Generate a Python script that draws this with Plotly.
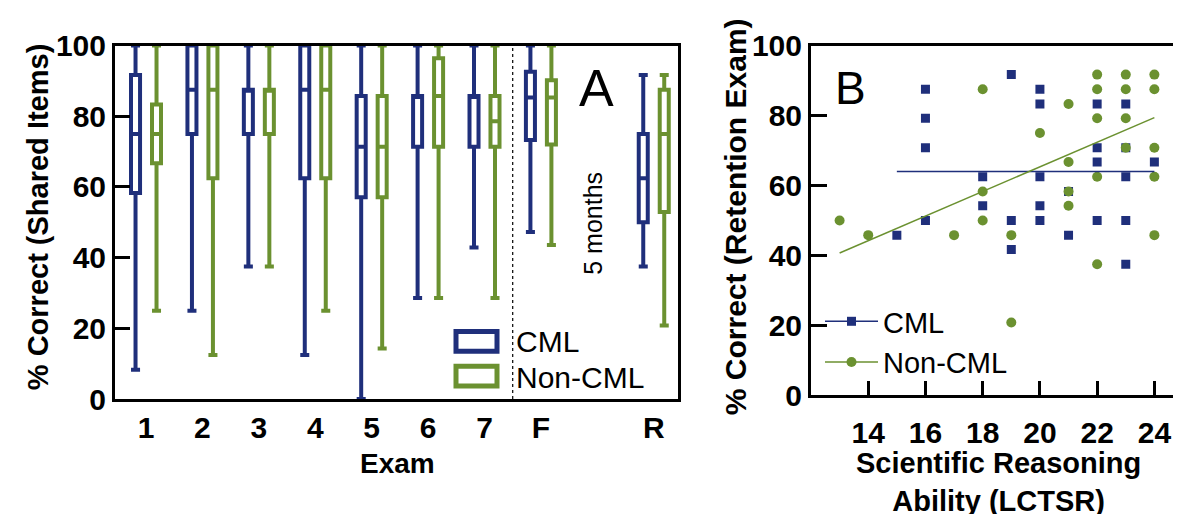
import plotly.graph_objects as go

# ---------------- Data ----------------
exam_pos = [1, 2, 3, 4, 5, 6, 7, 8, 10]
exam_labels = ["1", "2", "3", "4", "5", "6", "7", "F", "R"]

cml_min = [8.3, 25, 37.5, 12.5, 0, 28.6, 42.9, 47.3, 37.5]
cml_q1 = [58.3, 75, 75, 62.5, 57.1, 71.4, 71.4, 73.3, 50]
cml_med = [75, 87.5, 87.5, 87.5, 71.4, 85.7, 85.7, 85.3, 62.5]
cml_q3 = [91.7, 100, 87.5, 100, 85.7, 85.7, 85.7, 92.6, 75]
cml_max = [100, 100, 100, 100, 100, 100, 100, 100, 91.7]

nc_min = [25, 12.5, 37.5, 25, 14.3, 28.6, 28.6, 43.6, 20.8]
nc_q1 = [66.7, 62.5, 75, 62.5, 57.1, 71.4, 71.4, 72, 52.9]
nc_med = [75, 87.5, 87.5, 87.5, 71.4, 85.7, 78.6, 85.3, 75]
nc_q3 = [83.3, 100, 87.5, 100, 85.7, 96.4, 85.7, 90.2, 87.5]
nc_max = [100, 100, 100, 100, 100, 100, 100, 100, 91.7]

cml_lctsr = [15, 16, 16, 16, 16, 18, 18, 19, 19, 19, 20, 20, 20, 20, 20,
             21, 21, 22, 22, 22, 22, 23, 23, 23, 23, 23, 24]
cml_ret = [45.8, 87.5, 79.2, 70.8, 50, 62.5, 54.2, 91.7, 50, 41.7, 87.5, 83.3, 62.5, 54.2, 50,
           58.3, 45.8, 83.3, 70.8, 66.7, 50, 83.3, 70.8, 62.5, 50, 37.5, 66.7]

nc_lctsr = [13, 14, 17, 18, 18, 18, 19, 19, 20, 21, 21, 21, 21, 22, 22, 22, 22, 22,
            23, 23, 23, 23, 24, 24, 24, 24, 24]
nc_ret = [50, 45.8, 45.8, 87.5, 58.3, 50, 45.8, 20.8, 75, 83.3, 66.7, 58.3, 54.2,
          91.7, 87.5, 79.2, 62.5, 37.5, 91.7, 87.5, 79.2, 70.8, 91.7, 87.5, 70.8, 62.5, 45.8]

cml_fit_x = [15, 24]
cml_fit_y = [64, 64]
nc_fit_x = [13, 24]
nc_fit_y = [40.7, 79.4]

# ---------------- Style ----------------
BLUE = "#1F2F7B"
GREEN = "#6B9130"
FONT = "Liberation Sans"
W, H = 1181, 514

def px_x(p):
    return p / W

def px_y(p):
    return 1 - p / H

fig = go.Figure()

# Panel A boxes
fig.add_trace(go.Box(
    x=exam_pos, q1=cml_q1, median=cml_med, q3=cml_q3,
    lowerfence=cml_min, upperfence=cml_max,
    name="CML", line=dict(color=BLUE, width=4), fillcolor="white",
    whiskerwidth=1, boxpoints=False, showlegend=False,
    xaxis="x", yaxis="y", hoverinfo="skip"))
fig.add_trace(go.Box(
    x=exam_pos, q1=nc_q1, median=nc_med, q3=nc_q3,
    lowerfence=nc_min, upperfence=nc_max,
    name="Non-CML", line=dict(color=GREEN, width=4), fillcolor="white",
    whiskerwidth=1, boxpoints=False, showlegend=False,
    xaxis="x", yaxis="y", hoverinfo="skip"))

# Panel B scatter
fig.add_trace(go.Scatter(
    x=cml_lctsr, y=cml_ret, mode="markers",
    marker=dict(symbol="square", size=9, color=BLUE),
    showlegend=False, xaxis="x2", yaxis="y2"))
fig.add_trace(go.Scatter(
    x=nc_lctsr, y=nc_ret, mode="markers",
    marker=dict(symbol="circle", size=10, color=GREEN),
    showlegend=False, xaxis="x2", yaxis="y2"))
fig.add_trace(go.Scatter(
    x=cml_fit_x, y=cml_fit_y, mode="lines",
    line=dict(color=BLUE, width=1.5),
    showlegend=False, xaxis="x2", yaxis="y2"))
fig.add_trace(go.Scatter(
    x=nc_fit_x, y=nc_fit_y, mode="lines",
    line=dict(color=GREEN, width=1.5),
    showlegend=False, xaxis="x2", yaxis="y2"))
# legend entries for panel B
fig.add_trace(go.Scatter(
    x=[None], y=[None], mode="lines+markers", name="CML",
    marker=dict(symbol="square", size=9, color=BLUE),
    line=dict(color=BLUE, width=1.5), xaxis="x2", yaxis="y2"))
fig.add_trace(go.Scatter(
    x=[None], y=[None], mode="lines+markers", name="Non-CML",
    marker=dict(symbol="circle", size=10, color=GREEN),
    line=dict(color=GREEN, width=1.5), xaxis="x2", yaxis="y2"))

tickfont = dict(family=FONT, size=30, color="black", weight="bold")
axis_common = dict(showline=True, linewidth=3, linecolor="black", mirror=True,
                   showgrid=False, zeroline=False, tickfont=tickfont,
                   tickcolor="black", tickwidth=3)

fig.update_layout(
    width=W, height=H,
    margin=dict(l=0, r=0, t=0, b=0),
    paper_bgcolor="white", plot_bgcolor="white",
    boxmode="group", boxgap=0.256, boxgroupgap=0.57,
    font=dict(family=FONT, color="black"),
    xaxis=dict(domain=[px_x(107), px_x(670)], range=[0.45, 10.43],
               tickvals=exam_pos, ticktext=exam_labels, ticks="",
               ticklabelstandoff=0, anchor="y", **axis_common),
    yaxis=dict(domain=[px_y(400), px_y(23)], range=[0, 100],
               tickvals=[0, 20, 40, 60, 80, 100], ticks="inside", ticklen=15,
               anchor="x", **axis_common),
    xaxis2=dict(domain=[px_x(803), px_x(1175)], range=[12, 25],
                tickvals=[14, 16, 18, 20, 22, 24], ticks="inside", ticklen=14,
                ticklabelstandoff=9, anchor="y2", **axis_common),
    yaxis2=dict(domain=[px_y(396), px_y(23)], range=[0, 100],
                tickvals=[0, 20, 40, 60, 80, 100], ticks="inside", ticklen=16,
                anchor="x2", **axis_common),
    legend=dict(x=px_x(812), y=px_y(290), xanchor="left", yanchor="top",
                font=dict(family=FONT, size=29, color="black"),
                itemwidth=53, bgcolor="rgba(0,0,0,0)", tracegroupgap=0),
    showlegend=True,
)

# dotted separator between exams and retention
fig.add_shape(type="line", xref="x", yref="y domain", x0=7.5, x1=7.5, y0=0, y1=1,
              line=dict(color="black", width=1.2, dash="dot"))

# Panel A legend (drawn)
for (y0, y1, col) in [(326, 351, BLUE), (363, 388, GREEN)]:
    fig.add_shape(type="rect", xref="paper", yref="paper",
                  x0=px_x(448), x1=px_x(489), y0=px_y(y1 - 2), y1=px_y(y0 + 2),
                  line=dict(color=col, width=5), fillcolor="white")

ann = []
ann.append(dict(x=px_x(506), y=px_y(339), text="CML", xanchor="left", yanchor="middle",
                font=dict(size=30)))
ann.append(dict(x=px_x(506), y=px_y(377), text="Non-CML", xanchor="left", yanchor="middle",
                font=dict(size=30)))
ann.append(dict(x=px_x(588), y=px_y(68), text="A", xanchor="center", yanchor="middle",
                font=dict(size=52)))
ann.append(dict(x=px_x(842), y=px_y(68), text="B", xanchor="center", yanchor="middle",
                font=dict(size=46)))
ann.append(dict(x=px_x(585), y=px_y(213), text="5 months", textangle=-90,
                xanchor="center", yanchor="middle", font=dict(size=25)))
# axis titles
ann.append(dict(x=px_x(30), y=px_y(206), text="% Correct (Shared Items)", textangle=-90,
                xanchor="center", yanchor="middle", font=dict(size=29, weight="bold")))
ann.append(dict(x=px_x(389), y=px_y(469), text="Exam", xanchor="center", yanchor="middle",
                font=dict(size=28, weight="bold")))
ann.append(dict(x=px_x(727), y=px_y(206), text="% Correct (Retention Exam)", textangle=-90,
                xanchor="center", yanchor="middle", font=dict(size=30, weight="bold")))
ann.append(dict(x=px_x(990), y=px_y(488), text="Scientific Reasoning<br>Ability (LCTSR)",
                xanchor="center", yanchor="middle", font=dict(size=29, weight="bold")))
for a in ann:
    a.setdefault("xref", "paper")
    a.setdefault("yref", "paper")
    a["showarrow"] = False
    a["font"].setdefault("family", FONT)
    a["font"].setdefault("color", "black")
fig.update_layout(annotations=ann)

fig.write_html("out.html")
